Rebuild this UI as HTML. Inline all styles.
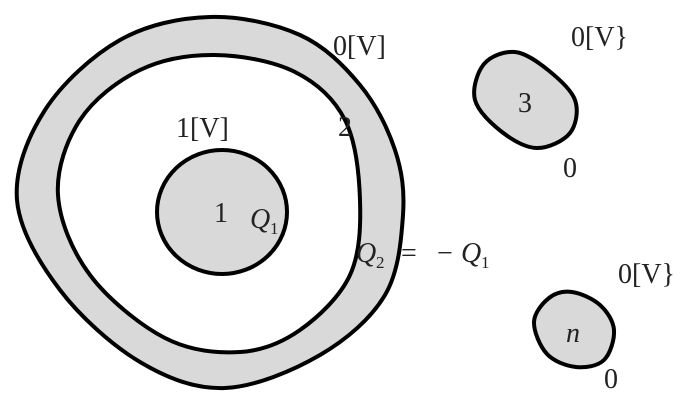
<!DOCTYPE html>
<html><head><meta charset="utf-8"><style>
html,body{margin:0;padding:0;background:#fff;width:699px;height:406px;overflow:hidden}
svg text{font-family:"Liberation Serif",serif;fill:#222}
</style></head><body>
<svg id="s" width="699" height="406" viewBox="0 0 699 406">
<path id="outer" fill="#d9d9d9" stroke="#000" stroke-width="4"/>
<path id="inner" fill="#fff" stroke="#000" stroke-width="4"/>
<ellipse cx="222" cy="212" rx="65" ry="62" fill="#d9d9d9" stroke="#000" stroke-width="4"/>
<path id="b3" fill="#d9d9d9" stroke="#000" stroke-width="4"/>
<path id="bn" fill="#d9d9d9" stroke="#000" stroke-width="4"/>
<text x="333" y="55" font-size="28">0[V]</text>
<text x="338" y="136" font-size="28">2</text>
<text x="176" y="137" font-size="28">1[V]</text>
<text x="214" y="222" font-size="28">1</text>
<text x="250" y="228" font-size="28" font-style="italic">Q</text><text x="270" y="234" font-size="17">1</text>
<text x="356" y="262" font-size="28" font-style="italic">Q</text><text x="376" y="268" font-size="17">2</text>
<text x="401" y="262" font-size="28">=</text>
<text x="437" y="262" font-size="28">−</text>
<text x="461" y="262" font-size="28" font-style="italic">Q</text><text x="481" y="268" font-size="17">1</text>
<text x="571" y="46" font-size="28">0[V}</text>
<text x="518" y="112" font-size="28">3</text>
<text x="563" y="177" font-size="28">0</text>
<text x="618" y="283" font-size="28">0[V}</text>
<text x="566" y="342" font-size="28" font-style="italic">n</text>
<text x="604" y="388" font-size="28">0</text>
</svg>
<script>
function cr(p){let d="";const n=p.length;for(let i=0;i<n;i++){const p0=p[(i-1+n)%n],p1=p[i],p2=p[(i+1)%n],p3=p[(i+2)%n];
if(i==0)d+="M"+p1[0]+","+p1[1];
const c1=[p1[0]+(p2[0]-p0[0])/6,p1[1]+(p2[1]-p0[1])/6],c2=[p2[0]-(p3[0]-p1[0])/6,p2[1]-(p3[1]-p1[1])/6];
d+="C"+c1.join(",")+" "+c2.join(",")+" "+p2.join(",");}return d+"Z";}
document.getElementById("outer").setAttribute("d",cr([[210,17],[300,35],[360,85],[395,150],[403,215],[385,295],[320,355],[225,388],[140,362],[60,290],[17,200],[45,110],[120,40]]));
document.getElementById("inner").setAttribute("d",cr([[215,55],[295,72],[345,120],[360,200],[350,275],[300,330],[240,352],[165,338],[90,275],[58,195],[80,120],[140,70]]));
document.getElementById("b3").setAttribute("d",cr([[515,52],[548,70],[575,100],[570,133],[537,148],[502,132],[475,100],[484,64]]));
document.getElementById("bn").setAttribute("d",cr([[572,292],[600,305],[614,330],[604,360],[576,367],[547,354],[534,322],[549,298]]));
</script>
</body></html>
